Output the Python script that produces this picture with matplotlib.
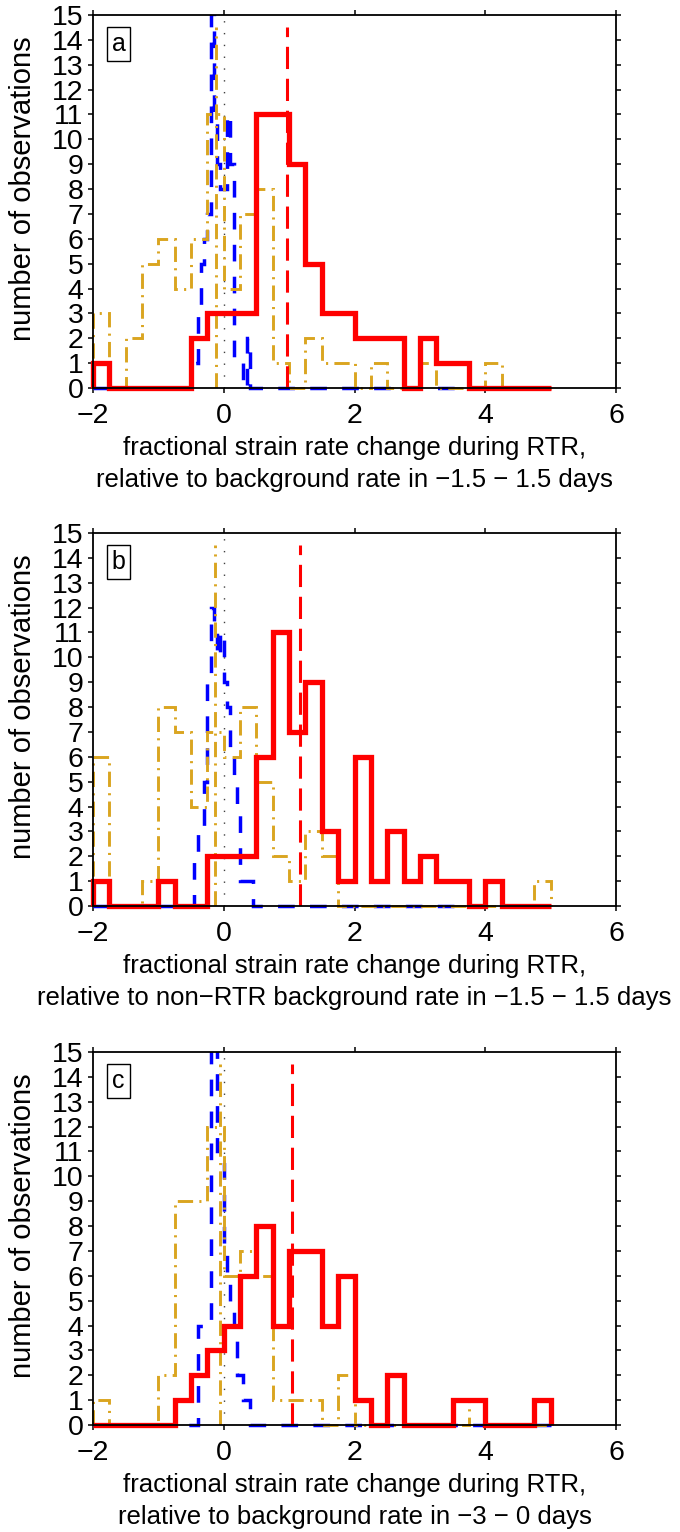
import matplotlib
matplotlib.use("Agg")
import matplotlib.pyplot as plt
import numpy as np
from matplotlib.patches import Rectangle

plt.rcParams['font.family'] = ['Liberation Sans', 'DejaVu Sans']
plt.rcParams['lines.scale_dashes'] = False

# coarse histograms: bins of 0.25 from -2 to 5
edges = np.arange(-2.0, 5.0 + 0.125, 0.25)

red_a = [1, 0, 0, 0, 0, 0, 2, 3, 3, 3, 11, 11, 9, 5,
         3, 3, 2, 2, 2, 0, 2, 1, 1, 0, 0, 0, 0, 0]
gold_a = [3, 0, 2, 5, 6, 4, 6, 11, 4, 7, 8, 1, 0, 2,
          1, 1, 0, 1, 0, 0, 1, 0, 0, 0, 1, 0, 0, 0]

red_b = [1, 0, 0, 0, 1, 0, 0, 2, 2, 2, 6, 11, 7, 9,
         3, 1, 6, 1, 3, 1, 2, 1, 1, 0, 1, 0, 0, 0]
gold_b = [6, 0, 0, 1, 8, 7, 4, 7, 6, 8, 5, 2, 1, 3,
          2, 0, 0, 0, 0, 0, 0, 0, 0, 0, 0, 0, 0, 1]

red_c = [0, 0, 0, 0, 0, 1, 2, 3, 4, 6, 8, 4, 7, 7,
         4, 6, 1, 0, 2, 0, 0, 0, 1, 1, 0, 0, 0, 1]
gold_c = [1, 0, 0, 0, 2, 9, 9, 12, 6, 7, 6, 1, 1, 1,
          0, 2, 0, 0, 0, 0, 0, 0, 0, 1, 0, 0, 0, 0]

# fine histograms: bins of 0.05 from -2 to 5, nonzero part listed from -0.5
fine_edges = np.round(np.arange(-2.0, 5.0 + 0.025, 0.05), 3)
fine_start = -0.5
blue_a = [1, 1, 3, 5, 6, 7, 20, 11, 9, 8, 8, 11, 9, 1, 1, 1, 0, 2, 0]
blue_b = [0, 2, 3, 3, 5, 9, 12, 11, 10, 11, 9, 8, 6, 5, 4, 1, 1, 1, 1, 0]
blue_c = [0, 0, 4, 4, 4, 4, 20, 20, 11, 11, 7, 6, 5, 4, 2, 2, 1, 1, 0]

# means of the distributions
red_mean = [0.97, 1.16, 1.04]
gold_mean = [-0.12, -0.14, -0.06]

panel_tags = ['a', 'b', 'c']
xlabels = [
    'fractional strain rate change during RTR,\n'
    'relative to background rate in \u22121.5 \u2212 1.5 days',
    'fractional strain rate change during RTR,\n'
    'relative to non\u2212RTR background rate in \u22121.5 \u2212 1.5 days',
    'fractional strain rate change during RTR,\n'
    'relative to background rate in \u22123 \u2212 0 days',
]


def pad_fine(vals):
    counts = np.zeros(len(fine_edges) - 1)
    i0 = int(round((fine_start - fine_edges[0]) / 0.05))
    counts[i0:i0 + len(vals)] = vals
    return counts


fig = plt.figure(figsize=(6.8, 15.32), dpi=100)
W, H = 680.0, 1532.0
bottoms_px = [388, 906, 1425]

reds = [red_a, red_b, red_c]
golds = [gold_a, gold_b, gold_c]
blues = [blue_a, blue_b, blue_c]

for k in range(3):
    ax = fig.add_axes([93 / W, 1 - bottoms_px[k] / H, 523 / W, 373 / H])
    ax.set_xlim(-2, 6)
    ax.set_ylim(0, 15)

    # clip only at the top so the zero lines keep their full width
    clip = Rectangle((-3, -1), 10, 16, transform=ax.transData)

    ax.plot([0, 0], [0, 15], color='0.25', lw=1.0, ls=(0, (1, 7.5)), zorder=1)

    sb = ax.stairs(pad_fine(blues[k]), fine_edges, baseline=0, color='blue',
                   lw=2.5, ls=(0, (12, 11)), zorder=2)
    sb.set_clip_path(clip)

    sg = ax.stairs(golds[k], edges, baseline=0, color='goldenrod',
                   lw=2.1, ls=(0, (11, 4.5, 1.5, 4.5)), zorder=3)
    sg.set_clip_path(clip)
    ax.plot([gold_mean[k], gold_mean[k]], [0, 14.5], color='goldenrod',
            lw=2.1, ls=(0, (11, 4.5, 1.5, 4.5)), zorder=3)

    sr = ax.stairs(reds[k], edges, baseline=0, color='red', lw=3.8, zorder=4)
    sr.set_clip_path(clip)
    sr.set_joinstyle('miter')
    ax.plot([red_mean[k], red_mean[k]], [0, 14.5], color='red',
            lw=2.2, ls=(0, (16, 7)), zorder=5)

    ax.set_xticks([-2, 0, 2, 4, 6])
    ax.set_yticks(range(16))
    ax.tick_params(direction='out', length=3.8, width=1.1, top=True,
                   right=True, labelsize=20.5, pad=7)
    ax.tick_params(axis='y', pad=3)
    for s in ax.spines.values():
        s.set_linewidth(1.3)
        s.set_zorder(6)

    ax.set_ylabel('number of observations', fontsize=21, labelpad=11)
    ax.yaxis.label.set_y(0.535)
    ax.set_xlabel(xlabels[k], fontsize=18.5, linespacing=1.4, labelpad=5)

    ax.text(0.0488, 0.922, panel_tags[k], transform=ax.transAxes,
            fontsize=18, ha='center', va='center',
            bbox=dict(boxstyle='square,pad=0.2', fc='white', ec='black', lw=1.0))

fig.savefig('out.png', dpi=100)
